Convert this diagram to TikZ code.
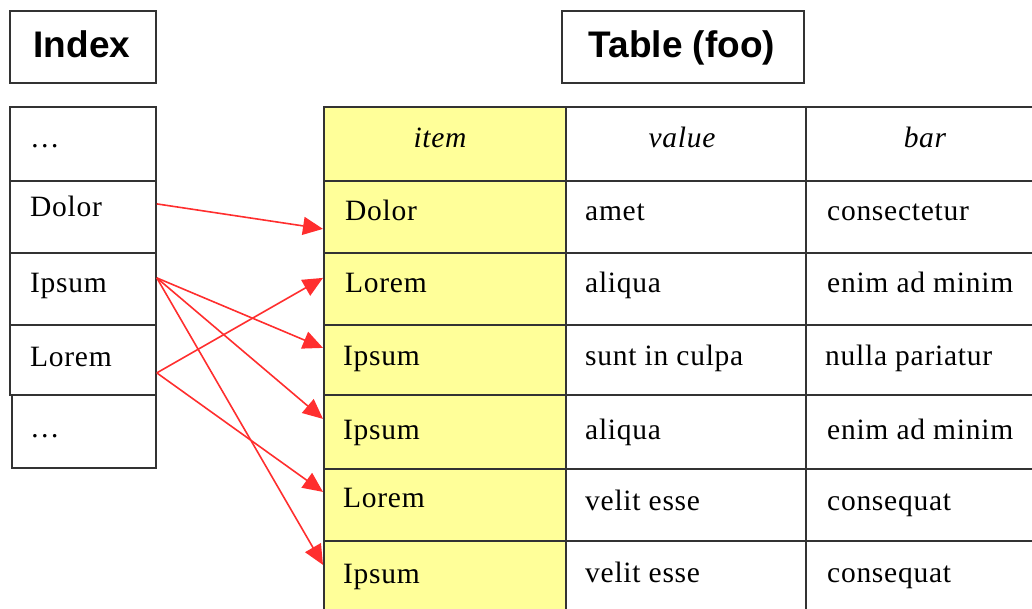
\documentclass[tikz,border=0pt]{standalone}
\usepackage{fontspec}
\setmainfont{Liberation Serif}[LetterSpace=2.5]
\newfontfamily\titlefont{Liberation Sans}
\usetikzlibrary{arrows.meta}
\definecolor{itemyellow}{HTML}{FFFF99}
\definecolor{linkred}{HTML}{FF2E2E}
\definecolor{rulegray}{HTML}{333333}
\begin{document}
\begin{tikzpicture}[x=1pt,y=-1pt,
  box/.style={draw=rulegray, line width=1.8pt, fill=white, inner sep=0pt, anchor=north west},
  ybox/.style={box, fill=itemyellow},
  title/.style={anchor=base, inner sep=0pt, font=\titlefont\bfseries\fontsize{37}{40}\selectfont},
  txt/.style={anchor=base west, inner sep=0pt, font=\fontsize{29.5}{32}\selectfont},
  head/.style={anchor=base, inner sep=0pt, font=\itshape\fontsize{29.5}{32}\selectfont},
  link/.style={draw=linkred, line width=1.6pt, -{Triangle[length=20pt,width=18pt]}}
]
\useasboundingbox (0,0) rectangle (1032,609);

% titles
\node[box, minimum width=146pt, minimum height=72pt] (ixtitle) at (9,10) {};
\node[title] (ixtitletext) at (82,58) {Index};
\node[box, minimum width=242pt, minimum height=72pt] (tbtitle) at (561,10) {};
\node[title] (tbtitletext) at (682,58) {Table (foo)};

% index column
\node[box, minimum width=146pt, minimum height=74pt] (i0) at (9,106) {};
\node[box, minimum width=146pt, minimum height=72pt] (i1) at (9,180) {};
\node[box, minimum width=146pt, minimum height=72pt] (i2) at (9,252) {};
\node[box, minimum width=146pt, minimum height=70pt] (i3) at (9,324) {};
\node[box, minimum width=144pt, minimum height=73pt] (i4) at (11,394) {};
\node[txt] (i0t) at (30,148) {…};
\node[txt] (i1t) at (30,217) {Dolor};
\node[txt] (i2t) at (30,292) {Ipsum};
\node[txt] (i3t) at (30,366) {Lorem};
\node[txt] (i4t) at (30,437) {…};

% table: item column (yellow)
\node[ybox, minimum width=242pt, minimum height=74pt] (t0) at (323,106) {};
\node[ybox, minimum width=242pt, minimum height=72pt] (t1) at (323,180) {};
\node[ybox, minimum width=242pt, minimum height=72pt] (t2) at (323,252) {};
\node[ybox, minimum width=242pt, minimum height=70pt] (t3) at (323,324) {};
\node[ybox, minimum width=242pt, minimum height=74pt] (t4) at (323,394) {};
\node[ybox, minimum width=242pt, minimum height=72pt] (t5) at (323,468) {};
\node[ybox, minimum width=242pt, minimum height=80pt] (t6) at (323,540) {};
% value column
\node[box, minimum width=240pt, minimum height=74pt] (v0) at (565,106) {};
\node[box, minimum width=240pt, minimum height=72pt] (v1) at (565,180) {};
\node[box, minimum width=240pt, minimum height=72pt] (v2) at (565,252) {};
\node[box, minimum width=240pt, minimum height=70pt] (v3) at (565,324) {};
\node[box, minimum width=240pt, minimum height=74pt] (v4) at (565,394) {};
\node[box, minimum width=240pt, minimum height=72pt] (v5) at (565,468) {};
\node[box, minimum width=240pt, minimum height=80pt] (v6) at (565,540) {};
% bar column
\node[box, minimum width=240pt, minimum height=74pt] (b0) at (805,106) {};
\node[box, minimum width=240pt, minimum height=72pt] (b1) at (805,180) {};
\node[box, minimum width=240pt, minimum height=72pt] (b2) at (805,252) {};
\node[box, minimum width=240pt, minimum height=70pt] (b3) at (805,324) {};
\node[box, minimum width=240pt, minimum height=74pt] (b4) at (805,394) {};
\node[box, minimum width=240pt, minimum height=72pt] (b5) at (805,468) {};
\node[box, minimum width=240pt, minimum height=80pt] (b6) at (805,540) {};

% headers
\node[head] (h1) at (440,148) {item};
\node[head] (h2) at (682,148) {value};
\node[head] (h3) at (925,148) {bar};

% cell texts
\node[txt] (t1t) at (345,221) {Dolor};
\node[txt] (t2t) at (345,293) {Lorem};
\node[txt] (t3t) at (343,365) {Ipsum};
\node[txt] (t4t) at (343,439) {Ipsum};
\node[txt] (t5t) at (343,507) {Lorem};
\node[txt] (t6t) at (343,583) {Ipsum};

\node[txt] (v1t) at (585,221) {amet};
\node[txt] (v2t) at (585,293) {aliqua};
\node[txt] (v3t) at (585,365) {sunt in culpa};
\node[txt] (v4t) at (585,439) {aliqua};
\node[txt] (v5t) at (585,510) {velit esse};
\node[txt] (v6t) at (585,582) {velit esse};

\node[txt] (b1t) at (827,221) {consectetur};
\node[txt] (b2t) at (827,293) {enim ad minim};
\node[txt] (b3t) at (825,365) {nulla pariatur};
\node[txt] (b4t) at (827,439) {enim ad minim};
\node[txt] (b5t) at (827,510) {consequat};
\node[txt] (b6t) at (827,582) {consequat};

% links
\draw[link] ([yshift=13pt]i1.east) -- ([yshift=-12pt]t1.west);
\draw[link] ([yshift=11pt]i2.east) -- ([yshift=12pt]t3.west);
\draw[link] ([yshift=11pt]i2.east) -- ([yshift=13pt]t4.west);
\draw[link] ([yshift=11pt]i2.east) -- ([yshift=16pt]t6.west);
\draw[link] ([yshift=-13pt]i3.east) -- ([yshift=11pt]t2.west);
\draw[link] ([yshift=-13pt]i3.east) -- ([yshift=13pt]t5.west);
\end{tikzpicture}
\end{document}
